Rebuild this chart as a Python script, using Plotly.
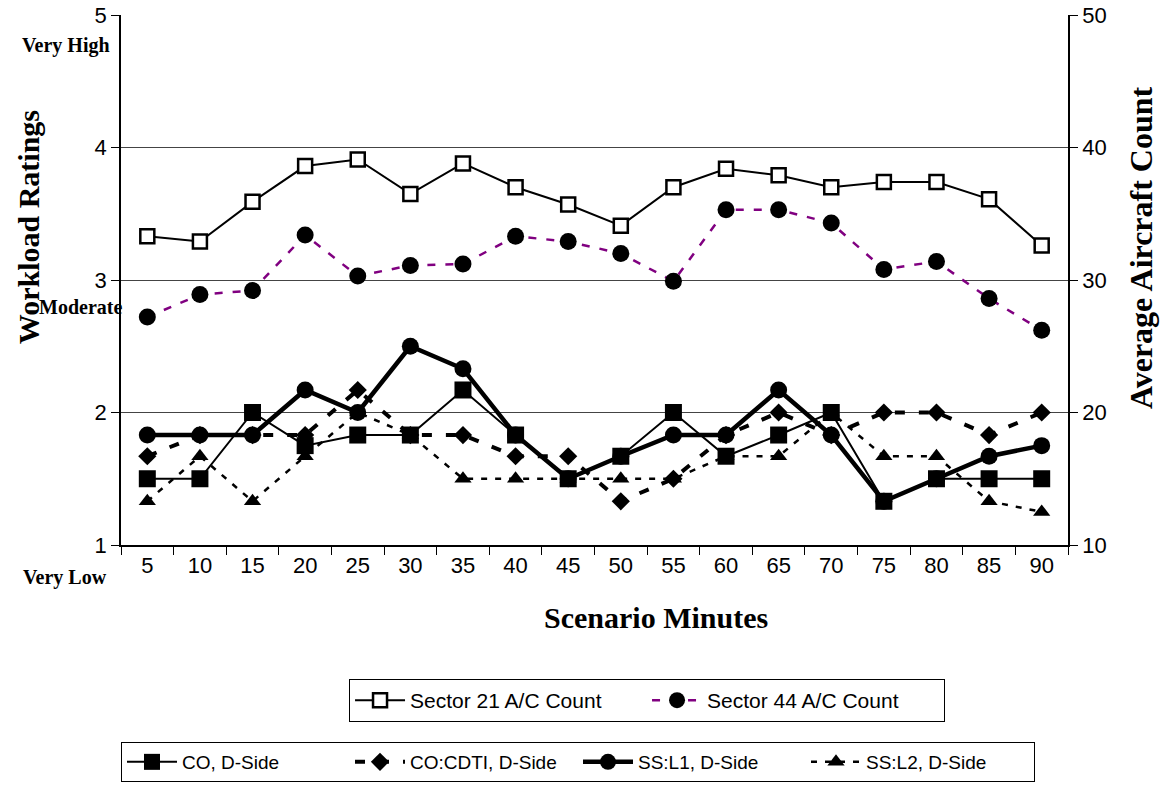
import plotly.graph_objects as go

# Scenario time bins (minutes)
minutes = ["5", "10", "15", "20", "25", "30", "35", "40", "45",
           "50", "55", "60", "65", "70", "75", "80", "85", "90"]

# Average aircraft counts (right axis)
sector21_count = [33.3, 32.9, 35.9, 38.6, 39.1, 36.5, 38.8, 37.0, 35.7,
                  34.1, 37.0, 38.4, 37.9, 37.0, 37.4, 37.4, 36.1, 32.6]
sector44_count = [27.2, 28.9, 29.2, 33.4, 30.3, 31.1, 31.2, 33.3, 32.9,
                  32.0, 29.9, 35.3, 35.3, 34.3, 30.8, 31.4, 28.6, 26.2]

# Workload ratings (left axis)
co_dside = [1.5, 1.5, 2.0, 1.75, 1.83, 1.83, 2.17, 1.83, 1.5,
            1.67, 2.0, 1.67, 1.83, 2.0, 1.33, 1.5, 1.5, 1.5]
co_cdti_dside = [1.67, 1.83, 1.83, 1.83, 2.17, 1.83, 1.83, 1.67, 1.67,
                 1.33, 1.5, 1.83, 2.0, 1.83, 2.0, 2.0, 1.83, 2.0]
ssl1_dside = [1.83, 1.83, 1.83, 2.17, 2.0, 2.5, 2.33, 1.83, 1.5,
              1.67, 1.83, 1.83, 2.17, 1.83, 1.33, 1.5, 1.67, 1.75]
ssl2_dside = [1.33, 1.67, 1.33, 1.67, 2.0, 1.83, 1.5, 1.5, 1.5,
              1.5, 1.5, 1.67, 1.67, 2.0, 1.67, 1.67, 1.33, 1.25]

left_ticks = [1, 2, 3, 4, 5]
right_ticks = [10, 20, 30, 40, 50]

SANS = "Liberation Sans, Arial, sans-serif"
SERIF = "Liberation Serif, Times New Roman, serif"

fig = go.Figure()

# Workload series, drawn bottom-most first
fig.add_trace(go.Scatter(
    x=minutes, y=ssl2_dside, name="SS:L2, D-Side", mode="lines+markers",
    line=dict(color="black", width=2.5, dash="6px,8px"),
    marker=dict(symbol="triangle-up", size=15, color="black"),
    legend="legend2", legendrank=4))
fig.add_trace(go.Scatter(
    x=minutes, y=co_cdti_dside, name="CO:CDTI, D-Side", mode="lines+markers",
    line=dict(color="black", width=4, dash="10px,14px"),
    marker=dict(symbol="diamond", size=14, color="black"),
    legend="legend2", legendrank=2))
fig.add_trace(go.Scatter(
    x=minutes, y=ssl1_dside, name="SS:L1, D-Side", mode="lines+markers",
    line=dict(color="black", width=4.5),
    marker=dict(symbol="circle", size=17, color="black"),
    legend="legend2", legendrank=3))
fig.add_trace(go.Scatter(
    x=minutes, y=co_dside, name="CO, D-Side", mode="lines+markers",
    line=dict(color="black", width=2),
    marker=dict(symbol="square", size=17, color="black"),
    legend="legend2", legendrank=1))

# Aircraft count series on the secondary axis
fig.add_trace(go.Scatter(
    x=minutes, y=sector21_count, name="Sector 21 A/C Count", mode="lines+markers",
    yaxis="y2", line=dict(color="black", width=2),
    marker=dict(symbol="square", size=14, color="white",
                line=dict(color="black", width=2.5)),
    legend="legend", legendrank=1))
fig.add_trace(go.Scatter(
    x=minutes, y=sector44_count, name="Sector 44 A/C Count", mode="lines+markers",
    yaxis="y2", line=dict(color="#800080", width=2.5, dash="8px,10px"),
    marker=dict(symbol="circle", size=17, color="black"),
    legend="legend", legendrank=2))

fig.update_layout(
    width=1161, height=790,
    margin=dict(l=121, r=93, t=15, b=245, autoexpand=False),
    paper_bgcolor="white", plot_bgcolor="white",
    font=dict(family=SANS, color="black"),
    xaxis=dict(
        type="category", categoryorder="array", categoryarray=minutes,
        range=[-0.5, len(minutes) - 0.5],
        tickson="boundaries", ticks="outside", ticklen=8, tickcolor="black",
        showline=True, linecolor="black", linewidth=1.5, showgrid=False,
        tickfont=dict(family=SANS, size=22),
    ),
    yaxis=dict(
        range=[1, 5], tickvals=left_ticks, ticks="outside", ticklen=8,
        tickcolor="black", showline=True, linecolor="black", linewidth=1.5,
        showgrid=True, gridcolor="#444", gridwidth=1, zeroline=False,
        tickfont=dict(family=SANS, size=22),
    ),
    yaxis2=dict(
        range=[10, 50], tickvals=right_ticks, overlaying="y", side="right",
        ticks="outside", ticklen=8, tickcolor="black", showline=True,
        linecolor="black", linewidth=1.5, showgrid=False, zeroline=False,
        tickfont=dict(family=SANS, size=22),
    ),
    legend=dict(
        orientation="h", x=0.2408, y=-0.2528, xanchor="left", yanchor="top",
        bordercolor="black", borderwidth=1, bgcolor="white",
        font=dict(family=SANS, size=21), itemwidth=50, entrywidth=232,
        traceorder="normal",
    ),
    legend2=dict(
        orientation="h", x=0.0, y=-0.3717, xanchor="left", yanchor="top",
        bordercolor="black", borderwidth=1, bgcolor="white",
        font=dict(family=SANS, size=19), itemwidth=50, entrywidth=163,
        traceorder="normal",
    ),
    showlegend=True,
)

# Axis titles
title_font = dict(family=SERIF, size=30, weight="bold", color="black")
fig.add_annotation(text="Scenario Minutes", xref="paper", yref="paper",
                   x=0.565, y=-0.136, xanchor="center", yanchor="middle",
                   showarrow=False, font=title_font)
fig.add_annotation(text="Workload Ratings", xref="paper", yref="paper",
                   x=-0.098, y=0.60, xanchor="center", yanchor="middle",
                   textangle=-90, showarrow=False, font=title_font)
fig.add_annotation(text="Average Aircraft Count", xref="paper", yref="paper",
                   x=1.077, y=0.562, xanchor="center", yanchor="middle",
                   textangle=-90, showarrow=False,
                   font=dict(family=SERIF, size=32, weight="bold", color="black"))

# Rating scale anchors beside the left axis
for label, xpos, ypos in [("Very High", -0.009, 0.943),
                          ("Moderate", 0.003, 0.449),
                          ("Very Low", -0.013, -0.062)]:
    fig.add_annotation(
        text=label, xref="paper", yref="paper", x=xpos, y=ypos,
        xanchor="right", yanchor="middle", showarrow=False,
        font=dict(family=SERIF, size=20, weight="bold", color="black"))

fig.write_html("out.html")
